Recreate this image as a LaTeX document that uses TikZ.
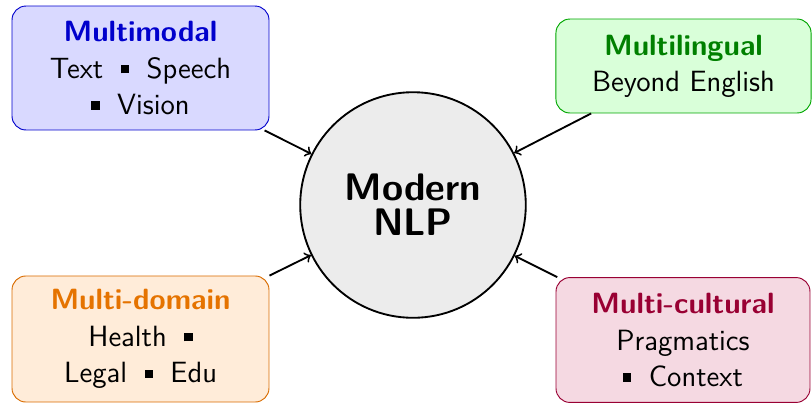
\documentclass[tikz,border=0pt]{standalone}
\usepackage{fontspec}
\usepackage{tikz}

\newcommand{\blk}{\rule[0.16em]{0.28em}{0.28em}}
\newcommand{\sqgap}{\hspace{0.6em}}

\begin{document}
\begin{tikzpicture}[x=0.43pt,y=-0.43pt,
                    area/.style={draw=#1!80!black,fill=#1!15,rounded corners=6pt,align=center,
                                 font=\sffamily\fontsize{12.6}{15.6}\selectfont},
                    hub/.style={circle,draw=black,thick,fill=gray!15,minimum size=97pt,align=center,
                                font=\sffamily\bfseries\fontsize{16.5}{15}\selectfont},
                    link/.style={->,thick}
                ]
    \useasboundingbox (0,0) rectangle (812,404);
    % centre
    \node[hub] (nlp) at (413,205) {Modern\\NLP};
    % the four directions
    \node[area=blue,minimum width=110.5pt,minimum height=53.3pt] (modal) at (140.5,68)
        {\textbf{\textcolor{blue!80!black}{Multimodal}}\\Text\sqgap\blk\sqgap Speech\\\blk\sqgap Vision};
    \node[area=green,draw=green!65!black,minimum width=109.7pt,minimum height=40.4pt] (lingual) at (683.5,66)
        {\textbf{\textcolor{green!50!black}{Multilingual}}\\Beyond English};
    \node[area=orange,draw=orange!85!black,minimum width=110.5pt,minimum height=54.2pt] (domain) at (140.5,339)
        {\textbf{\textcolor{orange!90!black}{Multi-domain}}\\Health\sqgap\blk\\Legal\sqgap\blk\sqgap Edu};
    \node[area=purple,minimum width=109.2pt,minimum height=53.7pt] (cultural) at (683,340)
        {\textbf{\textcolor{purple!80!black}{Multi-cultural}}\\Pragmatics\\\blk\sqgap Context};
    % arrows into the centre
    \foreach \n in {modal,lingual,domain,cultural}
        \draw[link] (\n) -- (nlp);
\end{tikzpicture}
\end{document}
